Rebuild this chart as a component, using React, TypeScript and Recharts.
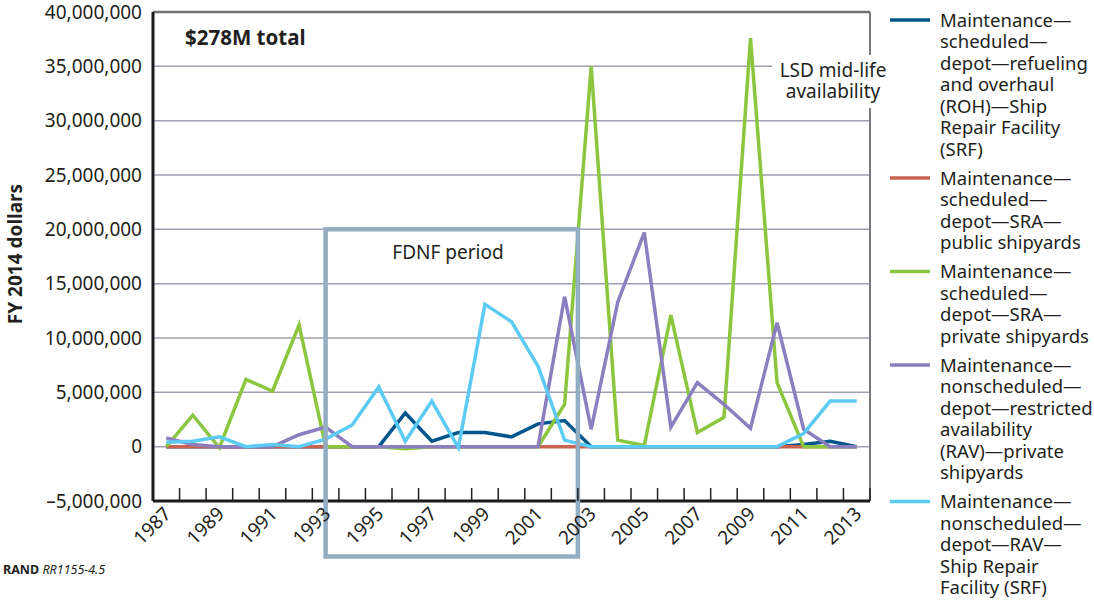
import React from 'react';
import {
  ComposedChart,
  Line,
  XAxis,
  YAxis,
  CartesianGrid,
  ReferenceArea,
  ReferenceLine,
} from 'recharts';

// ---------- data ----------
const years = [
  1987, 1988, 1989, 1990, 1991, 1992, 1993, 1994, 1995, 1996, 1997, 1998, 1999, 2000,
  2001, 2002, 2003, 2004, 2005, 2006, 2007, 2008, 2009, 2010, 2011, 2012, 2013,
];
const labelYears = [1987, 1989, 1991, 1993, 1995, 1997, 1999, 2001, 2003, 2005, 2007, 2009, 2011, 2013];

// Maintenance—scheduled—depot—ROH—SRF
const rohSrf = [
  0, 0, 0, 0, 0, 0, 0, 0, 0, 3100000, 500000, 1300000, 1300000, 900000,
  2100000, 2400000, 0, 0, 0, 0, 0, 0, 0, 0, 200000, 500000, 0,
];
// Maintenance—scheduled—depot—SRA—public shipyards
const sraPublic = [
  0, 0, 0, 0, 0, 0, 0, 0, 0, 0, 0, 0, 0, 0,
  0, 0, 0, 0, 0, 0, 0, 0, 0, 0, 0, 0, 0,
];
// Maintenance—scheduled—depot—SRA—private shipyards
const sraPrivate = [
  0, 2900000, -100000, 6200000, 5100000, 11200000, 0, 0, 0, -200000, 0, 0, 0, 0,
  0, 3900000, 35000000, 600000, 100000, 12100000, 1300000, 2700000, 37600000, 5900000, 0, 0, 0,
];
// Maintenance—nonscheduled—depot—RAV—private shipyards
const ravPrivate = [
  800000, 200000, 0, 0, 0, 1100000, 1800000, 0, 0, 0, 0, 0, 0, 0,
  0, 13800000, 1600000, 13300000, 19700000, 1800000, 5900000, 3900000, 1700000, 11400000, 1600000, 0, 0,
];
// Maintenance—nonscheduled—depot—RAV—SRF
const ravSrf = [
  400000, 500000, 900000, 0, 200000, 0, 700000, 2000000, 5500000, 500000, 4200000, -100000, 13100000, 11500000,
  7400000, 600000, 0, 0, 0, 0, 0, 0, 0, 0, 1200000, 4200000, 4200000,
];

const yTicks = [-5000000, 0, 5000000, 10000000, 15000000, 20000000, 25000000, 30000000, 35000000, 40000000];

const seriesKeys = ['rohSrf', 'sraPublic', 'sraPrivate', 'ravPrivate', 'ravSrf'];
const seriesColors = ['#00568d', '#c9634f', '#8cc63f', '#8b7fc0', '#5bcbf3'];
const seriesLegendLines = [
  ['Maintenance—', 'scheduled—', 'depot—refueling', 'and overhaul', '(ROH)—Ship', 'Repair Facility', '(SRF)'],
  ['Maintenance—', 'scheduled—', 'depot—SRA—', 'public shipyards'],
  ['Maintenance—', 'scheduled—', 'depot—SRA—', 'private shipyards'],
  ['Maintenance—', 'nonscheduled—', 'depot—restricted', 'availability', '(RAV)—private', 'shipyards'],
  ['Maintenance—', 'nonscheduled—', 'depot—RAV—', 'Ship Repair', 'Facility (SRF)'],
];

// FDNF period box: from 1993 to end of FY2002, from 20M down below the axis
const fdnfStart = 1993;
const fdnfEnd = 2002.5;
const fdnfTop = 20000000;
const fdnfBottom = -10100000;

const seriesArrays = [rohSrf, sraPublic, sraPrivate, ravPrivate, ravSrf];
const data = years.map((year, i) => {
  const row: Record<string, number> = { year };
  seriesKeys.forEach((k, s) => {
    row[k] = seriesArrays[s][i];
  });
  return row;
});

// ---------- layout ----------
const W = 1094;
const H = 600;
const PLOT_LEFT = 153;
const PLOT_RIGHT = 870;
const PLOT_TOP = 12;
const PLOT_BOTTOM = 501;
const BAND = (PLOT_RIGHT - PLOT_LEFT) / years.length;
const FONT = '"Noto Sans", "Open Sans", "DejaVu Sans", sans-serif';
const TEXT = '#231f20';

const fmtY = (v: number) =>
  v < 0 ? '\u2013' + Math.abs(v).toLocaleString('en-US') : v.toLocaleString('en-US');

const XTick = (props: any) => {
  const { x, y, payload } = props;
  const yr = payload.value as number;
  const half = BAND / 2;
  const lx = x + 6;
  const ly = y + 14;
  return (
    <g>
      <line x1={x - half} y1={y - 13} x2={x - half} y2={y} stroke="#231f20" strokeWidth={1.5} />
      {yr === years[years.length - 1] && (
        <line x1={x + half} y1={y - 13} x2={x + half} y2={y} stroke="#231f20" strokeWidth={1.5} />
      )}
      {labelYears.includes(yr) && (
        <text
          x={lx}
          y={ly}
          transform={`rotate(-45, ${lx}, ${ly})`}
          textAnchor="end"
          fontSize={19}
          fontFamily={FONT}
          fill={TEXT}
        >
          {yr}
        </text>
      )}
    </g>
  );
};

const LEGEND_LINE = 21.5;
const LEGEND_GAP = 7.5;

const Overlay = () => {
  let cy = 20;
  const entries = seriesLegendLines.map((lines, i) => {
    const top = cy;
    cy += lines.length * LEGEND_LINE + LEGEND_GAP;
    return (
      <g key={i}>
        <line x1={890} x2={930} y1={top} y2={top} stroke={seriesColors[i]} strokeWidth={3.5} />
        {lines.map((t, j) => (
          <text key={j} x={940} y={top + j * LEGEND_LINE + 6.5} fontSize={18.5} fontFamily={FONT} fill={TEXT}>
            {t}
          </text>
        ))}
      </g>
    );
  });
  return (
    <svg
      width={W}
      height={H}
      style={{ position: 'absolute', left: 0, top: 0, pointerEvents: 'none' }}
    >
      <rect x={772} y={55} width={122} height={53} fill="#ffffff" />
      <text x={833} y={77} textAnchor="middle" fontSize={19} fontFamily={FONT} fill={TEXT}>
        LSD mid-life
      </text>
      <text x={833} y={98} textAnchor="middle" fontSize={19} fontFamily={FONT} fill={TEXT}>
        availability
      </text>
      <text x={185} y={45} fontSize={20.5} fontWeight="bold" fontFamily={FONT} fill={TEXT}>
        $278M total
      </text>
      <text x={448} y={259} textAnchor="middle" fontSize={19} fontFamily={FONT} fill={TEXT}>
        FDNF period
      </text>
      <text
        x={22}
        y={254}
        transform="rotate(-90, 22, 254)"
        textAnchor="middle"
        fontSize={19}
        fontWeight="bold"
        fontFamily={FONT}
        fill={TEXT}
      >
        FY 2014 dollars
      </text>
      <text x={3} y={574} fontSize={12.5} fontFamily={FONT} fill={TEXT}>
        <tspan fontWeight="bold">RAND</tspan>
        <tspan fontStyle="italic"> RR1155-4.5</tspan>
      </text>
      {entries}
    </svg>
  );
};

export default function App() {
  return (
    <div style={{ position: 'absolute', left: 0, top: 0, width: W, height: H, background: '#fff', fontFamily: FONT }}>
      <ComposedChart
        width={W}
        height={H}
        data={data}
        margin={{ top: PLOT_TOP, right: W - PLOT_RIGHT, bottom: 0, left: 3 }}
      >
        <CartesianGrid vertical={false} stroke="#a19eb1" strokeWidth={1.5} />
        <XAxis
          dataKey="year"
          type="number"
          domain={[years[0] - 0.5, years[years.length - 1] + 0.5]}
          ticks={years}
          interval={0}
          tick={<XTick />}
          tickLine={false}
          tickSize={0}
          tickMargin={0}
          axisLine={{ stroke: '#1a1a1a', strokeWidth: 3 }}
          height={H - PLOT_BOTTOM}
        />
        <YAxis
          type="number"
          domain={[yTicks[0], yTicks[yTicks.length - 1]]}
          ticks={yTicks}
          interval={0}
          width={PLOT_LEFT - 3}
          tickFormatter={fmtY}
          tickLine={false}
          tickSize={0}
          tickMargin={11}
          axisLine={{ stroke: '#1a1a1a', strokeWidth: 3 }}
          tick={{ fontSize: 19, fill: TEXT, fontFamily: FONT }}
        />
        <ReferenceLine y={yTicks[yTicks.length - 1]} stroke="#6f6f6f" strokeWidth={2.5} />
        <ReferenceLine x={years[years.length - 1] + 0.5} stroke="#7a7a7a" strokeWidth={2} />
        {seriesKeys.map((k, i) => (
          <Line
            key={k}
            type="linear"
            dataKey={k}
            stroke={seriesColors[i]}
            strokeWidth={3.5}
            dot={false}
            activeDot={false}
            isAnimationActive={false}
          />
        ))}
        <ReferenceArea
          x1={fdnfStart}
          x2={fdnfEnd}
          y1={fdnfBottom}
          y2={fdnfTop}
          ifOverflow="visible"
          fill="none"
          fillOpacity={0}
          stroke="#93adc3"
          strokeWidth={4.5}
          strokeOpacity={1}
          zIndex={500}
        />
      </ComposedChart>
      <Overlay />
    </div>
  );
}
